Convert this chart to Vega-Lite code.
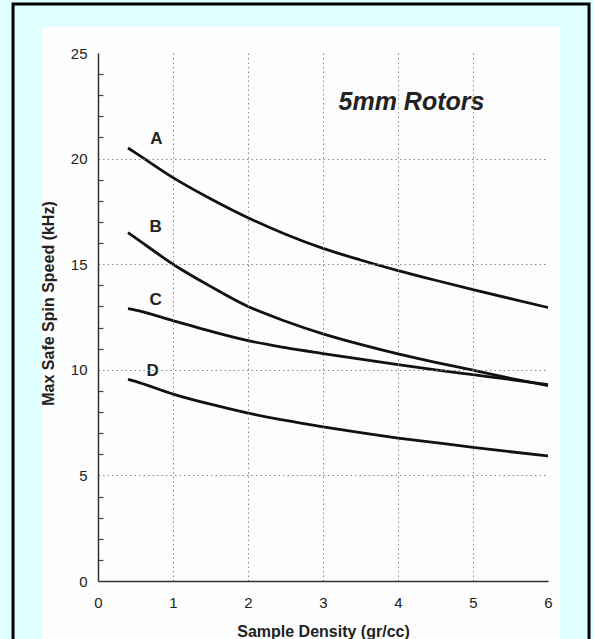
{
  "$schema": "https://vega.github.io/schema/vega-lite/v6.json",
  "width": 450,
  "height": 528,
  "autosize": {"type": "none"},
  "padding": {"left": 98, "top": 53, "right": 46, "bottom": 58},
  "background": "#E0FFFF",
  "config": {
    "font": "Liberation Sans",
    "view": {"stroke": "#333333", "strokeWidth": 1.5}
  },
  "datasets": {
    "curves": [
      {"series": "A", "density": 0.4, "speed": 20.5},
      {"series": "A", "density": 0.5, "speed": 20.27},
      {"series": "A", "density": 1.0, "speed": 19.1},
      {"series": "A", "density": 1.5, "speed": 18.1},
      {"series": "A", "density": 2.0, "speed": 17.2},
      {"series": "A", "density": 2.5, "speed": 16.42},
      {"series": "A", "density": 3.0, "speed": 15.75},
      {"series": "A", "density": 3.5, "speed": 15.2},
      {"series": "A", "density": 4.0, "speed": 14.7},
      {"series": "A", "density": 4.5, "speed": 14.24},
      {"series": "A", "density": 5.0, "speed": 13.8},
      {"series": "A", "density": 5.5, "speed": 13.37},
      {"series": "A", "density": 6.0, "speed": 12.95},
      {"series": "B", "density": 0.4, "speed": 16.5},
      {"series": "B", "density": 0.5, "speed": 16.25},
      {"series": "B", "density": 1.0, "speed": 15.0},
      {"series": "B", "density": 1.5, "speed": 13.95},
      {"series": "B", "density": 2.0, "speed": 13.0},
      {"series": "B", "density": 2.5, "speed": 12.3},
      {"series": "B", "density": 3.0, "speed": 11.7},
      {"series": "B", "density": 3.5, "speed": 11.2},
      {"series": "B", "density": 4.0, "speed": 10.75},
      {"series": "B", "density": 4.5, "speed": 10.35},
      {"series": "B", "density": 5.0, "speed": 9.98},
      {"series": "B", "density": 5.5, "speed": 9.6},
      {"series": "B", "density": 6.0, "speed": 9.25},
      {"series": "C", "density": 0.4, "speed": 12.9},
      {"series": "C", "density": 0.5, "speed": 12.83},
      {"series": "C", "density": 1.0, "speed": 12.33},
      {"series": "C", "density": 1.5, "speed": 11.83},
      {"series": "C", "density": 2.0, "speed": 11.38},
      {"series": "C", "density": 2.5, "speed": 11.05},
      {"series": "C", "density": 3.0, "speed": 10.77},
      {"series": "C", "density": 3.5, "speed": 10.5},
      {"series": "C", "density": 4.0, "speed": 10.24},
      {"series": "C", "density": 4.5, "speed": 10.0},
      {"series": "C", "density": 5.0, "speed": 9.77},
      {"series": "C", "density": 5.5, "speed": 9.54},
      {"series": "C", "density": 6.0, "speed": 9.3},
      {"series": "D", "density": 0.4, "speed": 9.55},
      {"series": "D", "density": 0.5, "speed": 9.45},
      {"series": "D", "density": 1.0, "speed": 8.85},
      {"series": "D", "density": 1.5, "speed": 8.37},
      {"series": "D", "density": 2.0, "speed": 7.95},
      {"series": "D", "density": 2.5, "speed": 7.6},
      {"series": "D", "density": 3.0, "speed": 7.3},
      {"series": "D", "density": 3.5, "speed": 7.02},
      {"series": "D", "density": 4.0, "speed": 6.77},
      {"series": "D", "density": 4.5, "speed": 6.55},
      {"series": "D", "density": 5.0, "speed": 6.33},
      {"series": "D", "density": 5.5, "speed": 6.12},
      {"series": "D", "density": 6.0, "speed": 5.92}
    ],
    "labels": [
      {"series": "A", "density": 0.78, "speed": 20.95},
      {"series": "B", "density": 0.77, "speed": 16.75},
      {"series": "C", "density": 0.77, "speed": 13.3},
      {"series": "D", "density": 0.73, "speed": 9.95}
    ],
    "notes": [
      {"note": "5mm Rotors", "density": 4.18, "speed": 22.3}
    ]
  },
  "layer": [
    {
      "data": {"values": [{}]},
      "mark": {"type": "rect", "fill": "#FDFDFD", "clip": false},
      "encoding": {
        "x": {"datum": -0.747, "type": "quantitative", "scale": {"domain": [0, 6]}},
        "x2": {"datum": 6.16},
        "y": {"datum": 26.23, "type": "quantitative", "scale": {"domain": [0, 25]}},
        "y2": {"datum": -4}
      }
    },
    {
      "data": {"values": [{}]},
      "mark": {"type": "rect", "fill": null, "stroke": "#000000", "strokeWidth": 3, "clip": false},
      "encoding": {
        "x": {"datum": -1.133, "type": "quantitative"},
        "x2": {"datum": 6.547},
        "y": {"datum": 27.32, "type": "quantitative"},
        "y2": {"datum": -5}
      }
    },
    {
      "data": {"name": "curves"},
      "mark": {"type": "line", "interpolate": "monotone", "color": "#111111", "strokeWidth": 2.8},
      "encoding": {
        "x": {
          "field": "density",
          "type": "quantitative",
          "scale": {"domain": [0, 6], "nice": false, "zero": false},
          "axis": {
            "title": "Sample Density (gr/cc)",
            "values": [0, 0.5, 1, 1.5, 2, 2.5, 3, 3.5, 4, 4.5, 5, 5.5, 6],
            "tickCount": 100,
            "format": "d",
            "labelExpr": "datum.value % 1 === 0 ? datum.label : ''",
            "labelOverlap": false,
            "labelFontSize": 15,
            "labelColor": "#222222",
            "labelPadding": 19,
            "labelFlush": false,
            "tickSize": -5,
            "tickColor": "#444444",
            "tickWidth": 1.2,
            "tickOpacity": {"condition": {"test": "datum.value % 1 !== 0", "value": 1}, "value": 0},
            "domainColor": "#333333",
            "domainWidth": 1.5,
            "grid": true,
            "gridColor": "#888888",
            "gridDash": [1.5, 3],
            "gridWidth": 1,
            "gridOpacity": {"condition": {"test": "datum.value % 1 === 0 && datum.value > 0 && datum.value < 6", "value": 1}, "value": 0},
            "titleFontSize": 16,
            "titleFontWeight": "bold",
            "titleColor": "#222222",
            "titleY": 50,
            "titleBaseline": "middle",
            "zindex": 1
          }
        },
        "y": {
          "field": "speed",
          "type": "quantitative",
          "scale": {"domain": [0, 25], "nice": false},
          "axis": {
            "title": "Max Safe Spin Speed (kHz)",
            "values": [0, 1, 2, 3, 4, 5, 6, 7, 8, 9, 10, 11, 12, 13, 14, 15, 16, 17, 18, 19, 20, 21, 22, 23, 24, 25],
            "tickCount": 100,
            "format": "d",
            "labelExpr": "datum.value % 5 === 0 ? datum.label : ''",
            "labelOverlap": false,
            "labelFontSize": 15,
            "labelColor": "#222222",
            "labelPadding": 16,
            "labelFlush": false,
            "tickSize": -5,
            "tickColor": "#444444",
            "tickWidth": 1.2,
            "tickOpacity": {"condition": {"test": "datum.value % 5 !== 0", "value": 1}, "value": 0},
            "domainColor": "#333333",
            "domainWidth": 1.5,
            "grid": true,
            "gridColor": "#888888",
            "gridDash": [1.5, 3],
            "gridWidth": 1,
            "gridOpacity": {"condition": {"test": "datum.value % 5 === 0 && datum.value > 0 && datum.value < 25", "value": 1}, "value": 0},
            "titleFontSize": 16,
            "titleFontWeight": "bold",
            "titleColor": "#222222",
            "titleAngle": -90,
            "titleX": -50,
            "titleY": 250,
            "titleAlign": "center",
            "titleBaseline": "middle",
            "zindex": 1
          }
        },
        "detail": {"field": "series"}
      }
    },
    {
      "data": {"name": "labels"},
      "mark": {"type": "text", "fontSize": 17, "fontWeight": "bold", "color": "#222222", "align": "center", "baseline": "middle"},
      "encoding": {
        "x": {"field": "density", "type": "quantitative"},
        "y": {"field": "speed", "type": "quantitative"},
        "text": {"field": "series"}
      }
    },
    {
      "data": {"name": "notes"},
      "mark": {"type": "text", "fontSize": 25, "fontWeight": "bold", "fontStyle": "italic", "color": "#222222", "align": "center", "baseline": "alphabetic"},
      "encoding": {
        "x": {"field": "density", "type": "quantitative"},
        "y": {"field": "speed", "type": "quantitative"},
        "text": {"field": "note"}
      }
    }
  ]
}
